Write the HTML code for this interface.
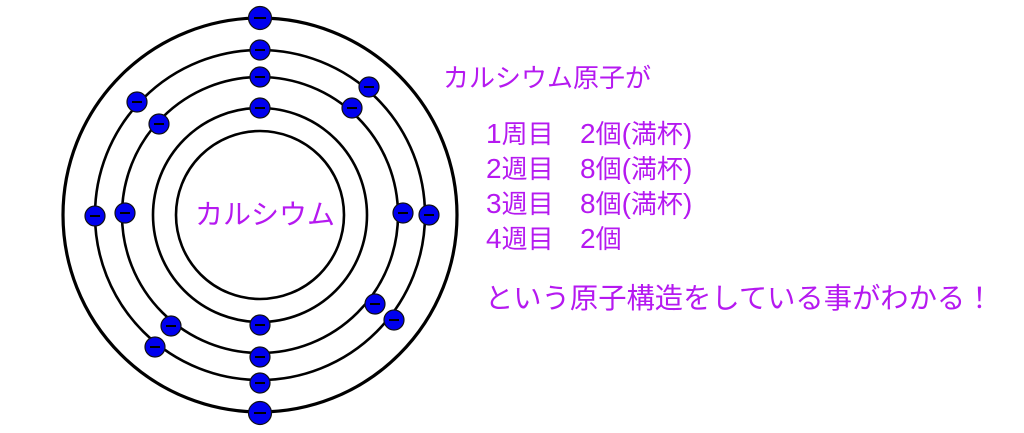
<!DOCTYPE html>
<html><head><meta charset="utf-8"><style>
body{margin:0;width:1024px;height:433px;background:#fff;overflow:hidden;position:relative;font-family:"Liberation Sans","Noto Sans CJK JP",sans-serif;color:#b519f0}
.t{position:absolute;white-space:nowrap;line-height:1;font-size:26px}
.n{font-size:28px}
</style></head><body>
<svg width="1024" height="433" style="position:absolute;left:0;top:0">
<g fill="none" stroke="#000">
<circle cx="260" cy="215" r="197" stroke-width="3.2"/>
<circle cx="260" cy="215" r="165" stroke-width="2.6"/>
<circle cx="260" cy="215" r="138" stroke-width="2.6"/>
<circle cx="260" cy="215" r="107" stroke-width="2.6"/>
<circle cx="260" cy="215" r="84" stroke-width="2.6"/>
</g>
<g fill="#0000ee" stroke="#111" stroke-width="1.2">
<circle cx="260" cy="18" r="11.5"/><circle cx="260" cy="413" r="11.5"/>
<circle cx="260" cy="50" r="10"/><circle cx="260" cy="77" r="10"/><circle cx="260" cy="108" r="10"/>
<circle cx="369" cy="87" r="10"/><circle cx="352" cy="108" r="10"/>
<circle cx="137" cy="102" r="10"/><circle cx="159" cy="124" r="10"/>
<circle cx="95" cy="216" r="10"/><circle cx="125" cy="213" r="10"/>
<circle cx="403" cy="213" r="10"/><circle cx="429" cy="215" r="10"/>
<circle cx="375" cy="304" r="10"/><circle cx="394" cy="320" r="10"/>
<circle cx="171" cy="326" r="10"/><circle cx="155" cy="347" r="10"/>
<circle cx="260" cy="325" r="10"/><circle cx="260" cy="357" r="10"/><circle cx="260" cy="383" r="10"/>
</g>
<g stroke="#000" stroke-width="2">
<path d="M254 18h12M254 413h12M255 50h10M255 77h10M255 108h10M364 87h10M347 108h10M132 102h10M154 124h10M90 216h10M120 213h10M398 213h10M424 215h10M370 304h10M389 320h10M166 326h10M150 347h10M255 325h10M255 357h10M255 383h10"/>
</g>
</svg>
<div class="t" style="left:195px;top:201px;font-size:28px">カルシウム</div>
<div class="t" style="left:443px;top:65px">カルシウム原子が</div>
<div class="t" style="left:486px;top:120px"><span class="n">1</span>周目</div><div class="t" style="left:580px;top:120px"><span class="n">2</span>個<span class="n">(</span>満杯<span class="n">)</span></div>
<div class="t" style="left:486px;top:155px"><span class="n">2</span>週目</div><div class="t" style="left:580px;top:155px"><span class="n">8</span>個<span class="n">(</span>満杯<span class="n">)</span></div>
<div class="t" style="left:486px;top:190px"><span class="n">3</span>週目</div><div class="t" style="left:580px;top:190px"><span class="n">8</span>個<span class="n">(</span>満杯<span class="n">)</span></div>
<div class="t" style="left:486px;top:225px"><span class="n">4</span>週目</div><div class="t" style="left:580px;top:225px"><span class="n">2</span>個</div>
<div class="t" style="left:485px;top:284px;font-size:28.3px">という原子構造をしている事がわかる！</div>
</body></html>
